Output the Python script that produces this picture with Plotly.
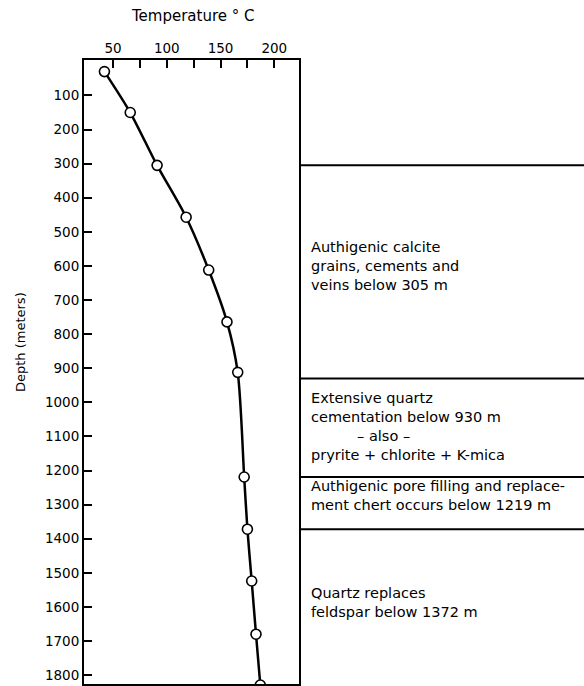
import plotly.graph_objects as go

# Data
temperature_c = [42, 66, 91, 118, 139, 156, 166, 172, 175, 179, 183, 187]
depth_m = [30, 150, 305, 457, 612, 764, 912, 1219, 1372, 1524, 1680, 1829]

x_tick_vals = [50, 75, 100, 125, 150, 175, 200]
x_tick_text = ["50", "", "100", "", "150", "", "200"]
y_tick_vals = list(range(100, 1900, 100))

zone_boundaries = [305, 930, 1219, 1372]
zone_labels = [
    "Authigenic calcite<br>grains, cements and<br>veins below 305 m",
    "Extensive quartz<br>cementation below 930 m<br>" + "\u00a0" * 10 + "\u2013 also \u2013<br>pryrite + chlorite + K-mica",
    "Authigenic pore filling and replace-<br>ment chert occurs below 1219 m",
    "Quartz replaces<br>feldspar below 1372 m",
]
zone_label_depths = [600, 1071, 1273, 1588]

FONT = "DejaVu Sans"

fig = go.Figure()

# Temperature profile
fig.add_trace(go.Scatter(
    x=temperature_c, y=depth_m, mode="lines+markers",
    line=dict(color="black", width=2.5, shape="spline", smoothing=0.8),
    marker=dict(symbol="circle", size=10, color="white",
                line=dict(color="black", width=1.6)),
    xaxis="x", yaxis="y", showlegend=False, hoverinfo="x+y",
))

# Zone boundary lines in right panel
bx, by = [], []
for d in zone_boundaries:
    bx += [0, 1, None]
    by += [d, d, None]
fig.add_trace(go.Scatter(
    x=bx, y=by, mode="lines", line=dict(color="black", width=2),
    xaxis="x2", yaxis="y", showlegend=False, hoverinfo="skip",
))

annotations = []
for txt, d in zip(zone_labels, zone_label_depths):
    annotations.append(dict(
        text=txt, xref="x2", yref="y", x=0.035, y=d,
        xanchor="left", yanchor="middle", align="left", showarrow=False,
        font=dict(family=FONT, size=14.5, color="black"),
    ))

annotations.append(dict(
    text="Temperature \u00b0 C", xref="paper", yref="paper",
    x=0.218, y=1.07, xanchor="center", yanchor="middle", showarrow=False,
    font=dict(family=FONT, size=15, color="black"),
))
annotations.append(dict(
    text="Depth (meters)", xref="paper", yref="paper", textangle=-90,
    x=-0.128, y=0.548, xanchor="center", yanchor="middle", showarrow=False,
    font=dict(family=FONT, size=13, color="black"),
))

fig.update_layout(
    width=584, height=686,
    margin=dict(l=84, r=0, t=60, b=2),
    paper_bgcolor="white", plot_bgcolor="white",
    font=dict(family=FONT, color="black"),
    xaxis=dict(
        domain=[0, 0.43], range=[23, 223], side="top",
        tickvals=x_tick_vals, ticktext=x_tick_text,
        ticks="inside", ticklen=8, tickwidth=1.5, tickcolor="black",
        showline=True, linecolor="black", linewidth=2, mirror=True,
        showgrid=False, zeroline=False,
        tickfont=dict(family=FONT, size=13.5, color="black"),
    ),
    xaxis2=dict(
        domain=[0.43, 1], range=[0, 1], anchor="y",
        visible=False, showgrid=False, zeroline=False, fixedrange=True,
    ),
    yaxis=dict(
        range=[1826, -4], anchor="x",
        tickvals=y_tick_vals,
        ticks="inside", ticklen=8, tickwidth=1.5, tickcolor="black",
        showline=True, linecolor="black", linewidth=2, mirror=True,
        showgrid=False, zeroline=False,
        tickfont=dict(family=FONT, size=13.5, color="black"),
    ),
    annotations=annotations,
)

# Remove the default page margin so the figure fills the window exactly
fig.write_html(
    "out.html",
    config={"displayModeBar": False},
    post_script="document.body.style.margin='0';document.body.style.overflow='hidden';",
)
